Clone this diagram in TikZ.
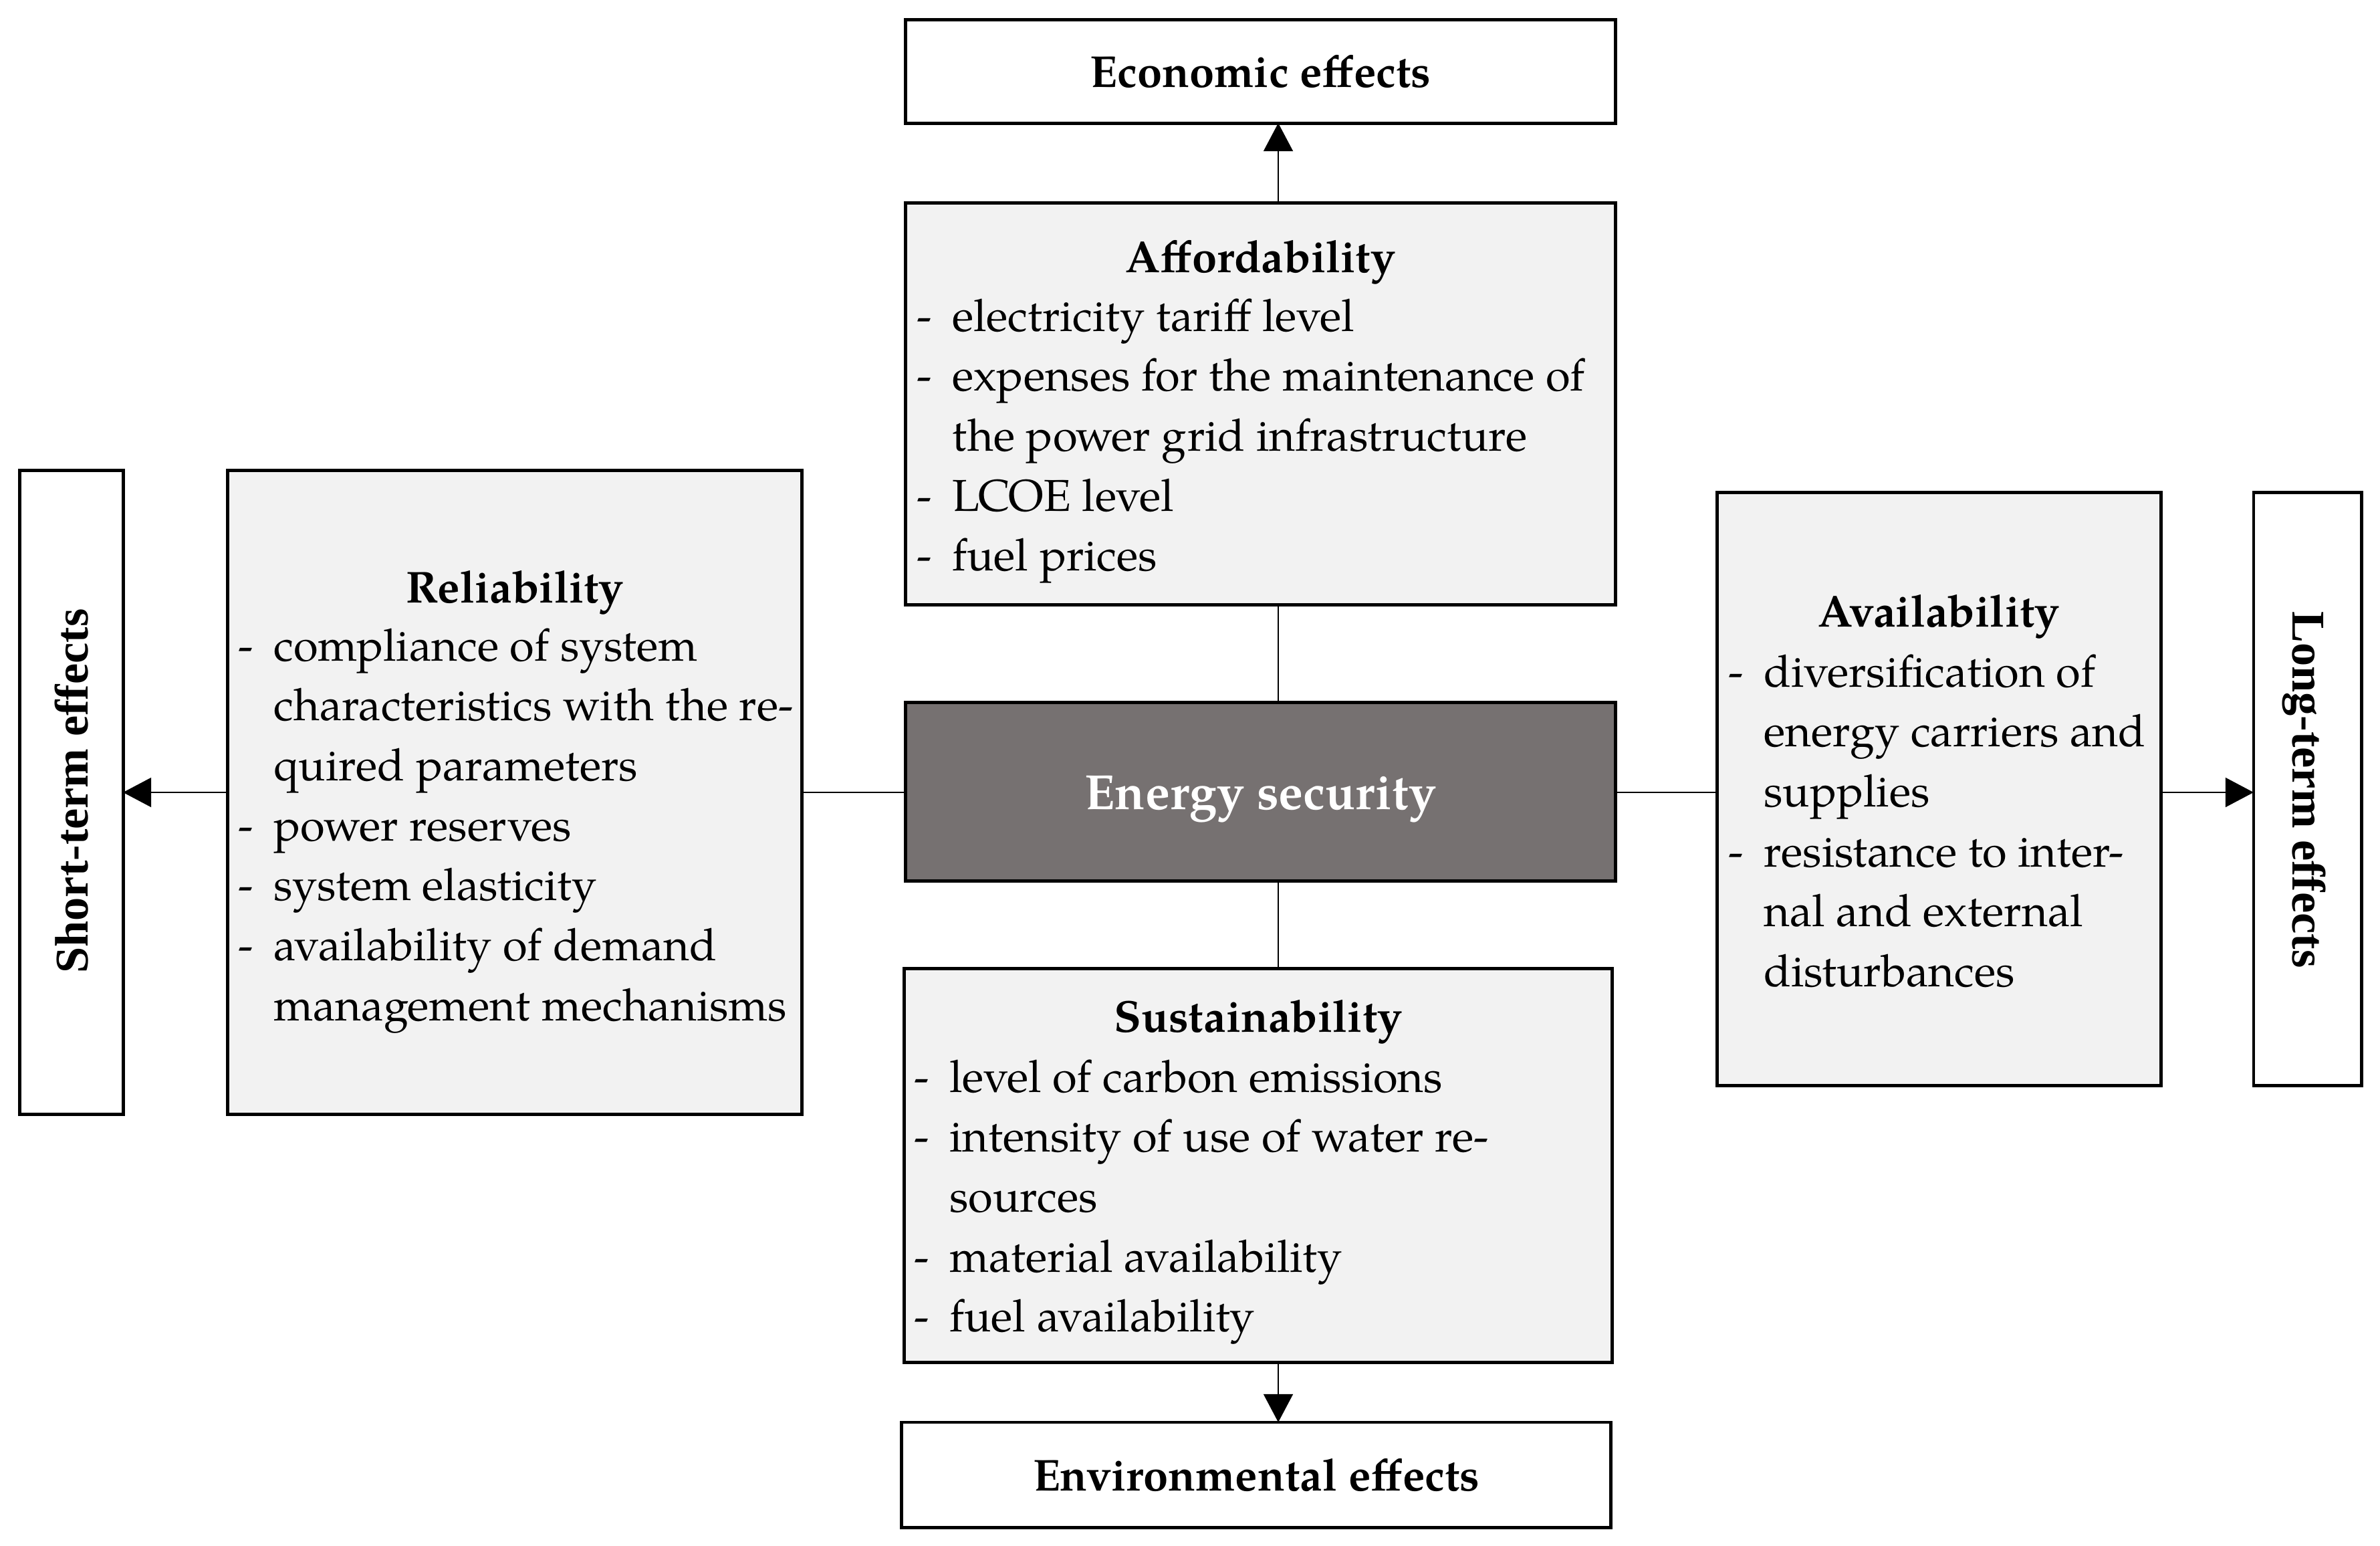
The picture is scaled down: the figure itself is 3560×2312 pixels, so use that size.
\documentclass[tikz,border=0pt]{standalone}
\usepackage{fontspec}
\setmainfont{TeX Gyre Pagella}
\newfontfamily\sidefont{Liberation Serif}
\usetikzlibrary{arrows.meta}
\definecolor{boxgray}{HTML}{F2F2F2}
\definecolor{esgray}{HTML}{767171}
\newcommand\itm{\makebox[15pt][l]{-}}
\newcommand\ind{\hspace*{15pt}}
\begin{document}
\begin{tikzpicture}[x=0.01cm,y=-0.01cm,
  frame/.style={draw=black, line width=1.4pt, inner sep=0pt, outer sep=0pt},
  effbox/.style={frame, fill=white},
  catbox/.style={frame, fill=boxgray},
  titletxt/.style={font=\fontsize{19}{25.5}\selectfont\bfseries, inner sep=0pt, anchor=base},
  listtxt/.style={font=\fontsize{19}{25.5}\selectfont, inner sep=0pt, anchor=base west},
  sidetxt/.style={font=\fontsize{20}{24}\selectfont\sidefont\bfseries, inner sep=0pt},
  conn/.style={line width=0.7pt},
  arr/.style={conn, -{Triangle[length=12pt,width=12.5pt]}}]
\useasboundingbox (0,0) rectangle (3560,2312);
% boxes
\node[effbox, minimum width=10.61cm, minimum height=1.54cm] (eco) at (1885.5,107) {};
\node[catbox, minimum width=10.61cm, minimum height=6.00cm] (aff) at (1885.5,604) {};
\node[frame, fill=esgray, minimum width=10.61cm, minimum height=2.66cm] (es) at (1885.5,1184) {};
\node[catbox, minimum width=10.59cm, minimum height=5.88cm] (sus) at (1882,1743) {};
\node[effbox, minimum width=10.60cm, minimum height=1.57cm] (env) at (1879,2205.5) {};
\node[catbox, minimum width=8.58cm, minimum height=9.62cm] (rel) at (770,1185) {};
\node[effbox, minimum width=1.54cm, minimum height=9.62cm] (short) at (107,1185) {};
\node[catbox, minimum width=6.63cm, minimum height=8.86cm] (avail) at (2900.5,1180) {};
\node[effbox, minimum width=1.61cm, minimum height=8.86cm] (long) at (3451.5,1180) {};
% texts
\node[titletxt] (ecot) at (1885.5,131) {Economic effects};
\node[titletxt] (envt) at (1879,2229) {Environmental effects};
\node[titletxt, font=\fontsize{21}{25}\selectfont\bfseries, text=white] (est) at (1885.5,1210) {Energy security};
\node[sidetxt, rotate=90] (shortt) at (107,1183) {Short-term effects};
\node[sidetxt, rotate=-90] (longt) at (3446,1181) {Long-term effects};
\node[titletxt] (afft) at (1885.5,407) {Affordability};
\node[listtxt] (affl) at (1371,495) {\begin{tabular}[t]{@{}l@{}}
\itm electricity tariff level\\
\itm expenses for the maintenance of\\
\ind the power grid infrastructure\\
\itm LCOE level\\
\itm fuel prices
\end{tabular}};
\node[titletxt] (relt) at (770,901) {Reliability};
\node[listtxt] (rell) at (356,988) {\begin{tabular}[t]{@{}l@{}}
\itm compliance of system\\
\ind characteristics with the re-\\
\ind quired parameters\\
\itm power reserves\\
\itm system elasticity\\
\itm availability of demand\\
\ind management mechanisms
\end{tabular}};
\node[titletxt] (avt) at (2900,937) {Availability};
\node[listtxt] (avl) at (2585,1027) {\begin{tabular}[t]{@{}l@{}}
\itm diversification of\\
\ind energy carriers and\\
\ind supplies\\
\itm resistance to inter-\\
\ind nal and external\\
\ind disturbances
\end{tabular}};
\node[titletxt] (sust) at (1882,1543) {Sustainability};
\node[listtxt] (susl) at (1367,1633) {\begin{tabular}[t]{@{}l@{}}
\itm level of carbon emissions\\
\itm intensity of use of water re-\\
\ind sources\\
\itm material availability\\
\itm fuel availability
\end{tabular}};
% connectors
\coordinate (vx) at (1912,1185);
\draw[arr] (aff.north -| vx) -- (eco.south -| vx);
\draw[conn] (aff.south -| vx) -- (es.north -| vx);
\draw[conn] (es.south -| vx) -- (sus.north -| vx);
\draw[arr] (sus.south -| vx) -- (env.north -| vx);
\draw[conn] (es.west |- vx) -- (rel.east |- vx);
\draw[arr] (rel.west |- vx) -- (short.east |- vx);
\draw[conn] (es.east |- vx) -- (avail.west |- vx);
\draw[arr] (avail.east |- vx) -- (long.west |- vx);
\end{tikzpicture}
\end{document}
